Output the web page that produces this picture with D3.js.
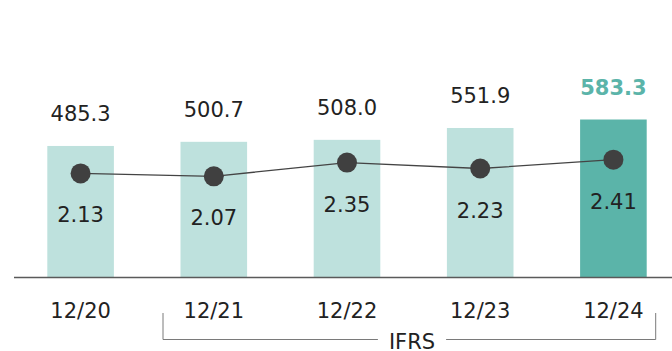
<!DOCTYPE html>
<html>
<head>
<meta charset="utf-8">
<script src="https://cdn.jsdelivr.net/npm/d3@7"></script>
<style>
  html, body { margin: 0; padding: 0; background: #fff; }
  svg { display: block; }
  text { font-family: "DejaVu Sans", Verdana, sans-serif; }
</style>
</head>
<body>
<svg id="chart" width="672" height="351"></svg>
<script>
// Fiscal periods, revenue bars and the ratio line
const periods = ["12/20", "12/21", "12/22", "12/23", "12/24"];
const barValues = [485.3, 500.7, 508.0, 551.9, 583.3];
const barLabels = ["485.3", "500.7", "508.0", "551.9", "583.3"];
const lineValues = [2.13, 2.07, 2.35, 2.23, 2.41];
const lineLabels = ["2.13", "2.07", "2.35", "2.23", "2.41"];
const highlightPeriod = "12/24";
const bracketText = "IFRS";
const bracketFrom = "12/21";
const bracketTo = "12/24";

const svg = d3.select("#chart");

const x = d3.scaleBand().domain(periods).range([14, 680])
  .paddingInner(0.5).paddingOuter(0.25);
const yBar = d3.scaleLinear().domain([0, 600]).range([277, 115]);
const yLine = d3.scaleLinear().domain([0, 3]).range([278, 130.7]);
const cx = p => x(p) + x.bandwidth() / 2;

const LIGHT = "#bee1dd";
const DARK = "#5bb4a9";

// bars
svg.append("g").selectAll("rect").data(periods).join("rect")
  .attr("x", p => x(p))
  .attr("width", x.bandwidth())
  .attr("y", (p, i) => yBar(barValues[i]))
  .attr("height", (p, i) => yBar(0) - yBar(barValues[i]))
  .attr("fill", p => p === highlightPeriod ? DARK : LIGHT);

// baseline
svg.append("line")
  .attr("x1", 14).attr("x2", 672)
  .attr("y1", 277.5).attr("y2", 277.5)
  .attr("stroke", "#5a5a5a").attr("stroke-width", 1.5);

// bar value labels
svg.append("g").selectAll("text").data(periods).join("text")
  .attr("x", cx)
  .attr("y", (p, i) => yBar(barValues[i]) - 25)
  .attr("text-anchor", "middle")
  .attr("font-size", 21)
  .attr("font-weight", p => p === highlightPeriod ? "bold" : "normal")
  .attr("fill", p => p === highlightPeriod ? DARK : "#222")
  .text((p, i) => barLabels[i]);

// ratio line
const line = d3.line().x(d => cx(d.p)).y(d => yLine(d.v));
const pts = periods.map((p, i) => ({ p, v: lineValues[i] }));
svg.append("path").datum(pts)
  .attr("d", line)
  .attr("fill", "none")
  .attr("stroke", "#444")
  .attr("stroke-width", 1.3);

svg.append("g").selectAll("circle").data(pts).join("circle")
  .attr("cx", d => cx(d.p))
  .attr("cy", d => yLine(d.v))
  .attr("r", 10)
  .attr("fill", "#404040");

svg.append("g").selectAll("text").data(pts).join("text")
  .attr("x", d => cx(d.p))
  .attr("y", d => yLine(d.v) + 49)
  .attr("text-anchor", "middle")
  .attr("font-size", 21)
  .attr("fill", "#222")
  .text((d, i) => lineLabels[i]);

// period labels
svg.append("g").selectAll("text").data(periods).join("text")
  .attr("x", cx)
  .attr("y", 318)
  .attr("text-anchor", "middle")
  .attr("font-size", 21)
  .attr("fill", "#222")
  .text(p => p);

// IFRS bracket
const bx1 = x(bracketFrom) - 17.5;
const bx2 = x(bracketTo) + x.bandwidth() + 9;
const by = 339.5;
const tx = 412;
const label = svg.append("text")
  .attr("x", tx).attr("y", 348.5)
  .attr("text-anchor", "middle")
  .attr("font-size", 21)
  .attr("fill", "#222")
  .text(bracketText);
const tw = label.node().getComputedTextLength();
const gap = 11;
const bracket = svg.append("g")
  .attr("fill", "none").attr("stroke", "#7a7a7a").attr("stroke-width", 1);
bracket.append("path")
  .attr("d", `M${bx1},313 V${by} H${tx - tw / 2 - gap}`);
bracket.append("path")
  .attr("d", `M${tx + tw / 2 + gap},${by} H${bx2} V313`);
</script>
</body>
</html>
